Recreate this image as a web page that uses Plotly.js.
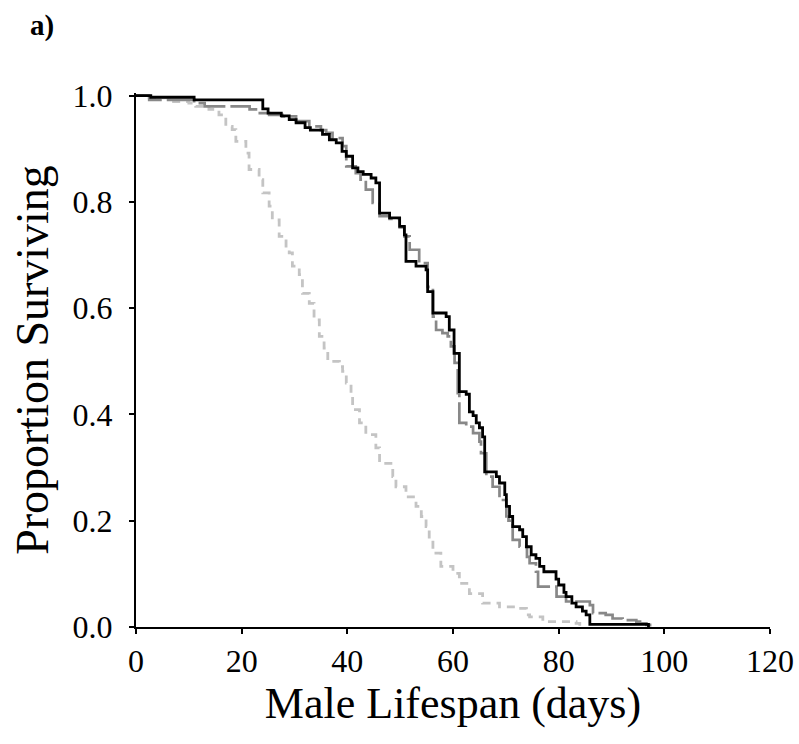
<!DOCTYPE html>
<html>
<head>
<meta charset="utf-8">
<script src="https://cdn.plot.ly/plotly-3.0.1.min.js"></script>
<style>
  html, body { margin: 0; padding: 0; background: #fff; }
  #chart { width: 799px; height: 744px; }
</style>
</head>
<body>
<div id="chart"></div>
<script>
// Survival curves (Kaplan-Meier style steps): day at which value changes, proportion surviving
const blackDays = [0, 2.8, 11, 24, 25, 27.5, 29, 30.3, 32, 33, 35.3, 36.6, 37.9, 39, 39.8, 41, 42, 43, 44.5, 45.4, 46.1, 48, 49.9, 50.8, 51.1, 53, 54.9, 55.2, 56.2, 58.7, 59.3, 60.2, 61.2, 62.5, 63.1, 63.8, 64.4, 65, 65.6, 66, 68.2, 68.8, 69.8, 70.1, 70.7, 71.3, 72.6, 73.2, 73.9, 74.8, 75.7, 76.4, 77.2, 79.5, 80, 81, 81.4, 82.5, 83.3, 84.5, 85.2, 85.9, 97];
const blackSurv = [1.0, 0.997, 0.992, 0.975, 0.967, 0.962, 0.955, 0.949, 0.94, 0.935, 0.927, 0.917, 0.911, 0.895, 0.886, 0.864, 0.857, 0.852, 0.845, 0.836, 0.779, 0.770, 0.754, 0.738, 0.688, 0.679, 0.672, 0.631, 0.591, 0.584, 0.559, 0.515, 0.443, 0.438, 0.405, 0.398, 0.384, 0.375, 0.358, 0.292, 0.283, 0.271, 0.249, 0.227, 0.208, 0.189, 0.183, 0.17, 0.151, 0.136, 0.129, 0.114, 0.104, 0.09, 0.079, 0.065, 0.057, 0.045, 0.038, 0.03, 0.023, 0.005, 0.0];

const grayDays = [0, 2.5, 11, 13, 21.5, 22.7, 25.2, 27.7, 30.3, 32.8, 35, 36, 37.2, 39.1, 39.8, 41.6, 42.5, 43.5, 44.8, 46.1, 48, 49.9, 50.8, 51.8, 53.6, 55.2, 56.2, 56.8, 58, 59, 59.6, 60.3, 60.9, 61.2, 62.5, 63.8, 65, 65.3, 66.3, 67.5, 68.8, 70.1, 70.5, 71.3, 72.6, 74, 74.5, 75.7, 76.1, 79.6, 81.4, 85.9, 86.5, 88.9, 90.2, 92.1, 94.7, 95.4, 96.6, 97.3];
const graySurv = [1.0, 0.992, 0.986, 0.98, 0.974, 0.967, 0.964, 0.961, 0.952, 0.942, 0.935, 0.93, 0.92, 0.905, 0.867, 0.854, 0.842, 0.823, 0.798, 0.773, 0.768, 0.752, 0.735, 0.71, 0.685, 0.64, 0.584, 0.559, 0.553, 0.547, 0.528, 0.497, 0.44, 0.384, 0.377, 0.365, 0.349, 0.327, 0.283, 0.264, 0.239, 0.208, 0.2, 0.164, 0.151, 0.132, 0.12, 0.104, 0.076, 0.057, 0.048, 0.041, 0.026, 0.023, 0.016, 0.013, 0.01, 0.007, 0.004, 0.0];

const lightDays = [0, 2.5, 6.3, 10, 11.3, 13.8, 15.7, 17, 18.2, 18.9, 20.8, 21.4, 23.3, 24, 25.2, 25.8, 27.1, 28.4, 29, 29.6, 30.9, 31.5, 32.8, 33.7, 34.7, 35.6, 36.3, 38.5, 39.1, 39.8, 40.7, 41, 42.3, 43.5, 45.4, 46.1, 48.6, 49.2, 51.1, 53, 54, 54.9, 55.5, 56.2, 57.7, 60, 61.2, 63.1, 65.6, 68.8, 72, 73.9, 74.5, 77, 83.3, 84];
const lightSurv = [1.0, 0.996, 0.989, 0.986, 0.98, 0.974, 0.964, 0.942, 0.936, 0.914, 0.892, 0.861, 0.842, 0.817, 0.792, 0.766, 0.735, 0.71, 0.704, 0.679, 0.663, 0.628, 0.609, 0.578, 0.547, 0.525, 0.5, 0.49, 0.481, 0.459, 0.437, 0.409, 0.384, 0.362, 0.337, 0.308, 0.283, 0.264, 0.245, 0.227, 0.208, 0.189, 0.164, 0.139, 0.114, 0.101, 0.082, 0.063, 0.045, 0.038, 0.035, 0.023, 0.019, 0.01, 0.007, 0.0];

const xTickVals = [0, 20, 40, 60, 80, 100, 120];
const yTickVals = [0, 0.2, 0.4, 0.6, 0.8, 1.0];
const yTickText = ['0.0', '0.2', '0.4', '0.6', '0.8', '1.0'];
const xTitle = 'Male Lifespan (days)';
const yTitle = 'Proportion Surviving';
const panelLabel = 'a)';

const serif = 'Liberation Serif, Times New Roman, serif';

const traces = [
  { x: lightDays, y: lightSurv, mode: 'lines', line: { shape: 'hv', color: '#c4c4c4', width: 2.8, dash: '8px,6px' }, hoverinfo: 'skip' },
  { x: grayDays, y: graySurv, mode: 'lines', line: { shape: 'hv', color: '#888888', width: 2.7, dash: '30px,5px' }, hoverinfo: 'skip' },
  { x: blackDays, y: blackSurv, mode: 'lines', line: { shape: 'hv', color: '#000000', width: 2.8 }, hoverinfo: 'skip' }
];

const layout = {
  width: 799, height: 744,
  margin: { l: 136, r: 29, t: 93, b: 117 },
  paper_bgcolor: '#ffffff', plot_bgcolor: '#ffffff',
  showlegend: false,
  font: { family: serif, color: '#000' },
  xaxis: {
    range: [0, 120], tickvals: xTickVals, ticktext: xTickVals.map(String),
    showgrid: false, zeroline: false, showline: true, linecolor: '#000', linewidth: 2,
    ticks: 'outside', ticklen: 5, tickwidth: 2, tickcolor: '#000',
    tickfont: { family: serif, size: 32, color: '#000' },
    title: { text: xTitle, font: { family: serif, size: 44, color: '#000' }, standoff: 4 }
  },
  yaxis: {
    range: [0, 1.005], tickvals: yTickVals, ticktext: yTickText,
    showgrid: false, zeroline: false, showline: true, linecolor: '#000', linewidth: 2,
    ticks: 'outside', ticklen: 5, tickwidth: 2, tickcolor: '#000', ticklabelstandoff: 10,
    tickfont: { family: serif, size: 32, color: '#000' },
    title: { text: yTitle, font: { family: serif, size: 46, color: '#000' }, standoff: 9 }
  },
  annotations: [{
    text: '<b>' + panelLabel + '</b>', xref: 'paper', yref: 'paper',
    x: -0.148, y: 1.127, xanchor: 'center', yanchor: 'middle', showarrow: false,
    font: { family: serif, size: 29, color: '#000' }
  }]
};

Plotly.newPlot('chart', traces, layout, { staticPlot: true, displayModeBar: false });
</script>
</body>
</html>
